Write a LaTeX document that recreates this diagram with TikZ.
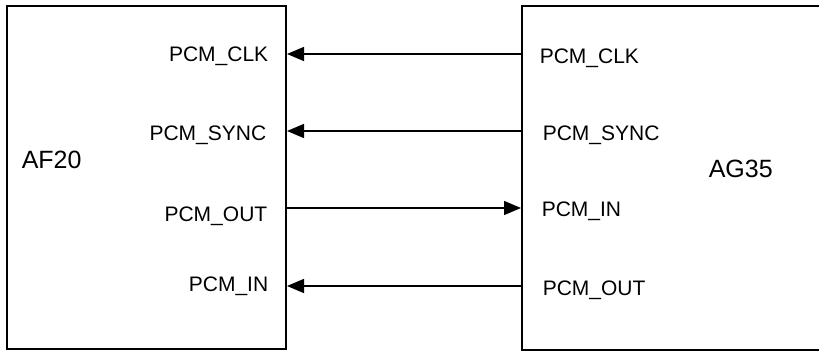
\documentclass[tikz,border=0pt]{standalone}
\usepackage{fontspec}
\setmainfont{Liberation Sans}
\usetikzlibrary{arrows.meta}

\begin{document}
\begin{tikzpicture}[x=1pt,y=-1pt,line width=1.5pt,>={Triangle[length=17pt,width=14pt]},
        chip/.style={rectangle,draw=black,line width=2pt},
        port/.style={font=\fontsize{21}{25}\selectfont,inner sep=0pt},
        chiplabel/.style={font=\fontsize{25}{30}\selectfont,inner sep=0pt}]
        \clip (0,0) rectangle (819,352);
        \node at (146.5,177.5)[chip,minimum width=279pt,minimum height=343pt] (af20) {};
        \node at (682,178)[chip,minimum width=320pt,minimum height=344pt] (ag35) {};
        \node at (21,169)[chiplabel,anchor=base west] (af20name) {AF20};
        \node at (708,178)[chiplabel,anchor=base west] (ag35name) {AG35};
        % rows of the pcm bus
        \coordinate (clk) at (0,54);
        \coordinate (sync) at (0,131);
        \coordinate (out) at (0,208);
        \coordinate (in) at (0,286);
        \node at (269,61.5)[port,anchor=base east] (fclk) {PCM\_CLK};
        \node at (267,140.5)[port,anchor=base east] (fsync) {PCM\_SYNC};
        \node at (268,222)[port,anchor=base east] (fout) {PCM\_OUT};
        \node at (269,291.5)[port,anchor=base east] (fin) {PCM\_IN};
        \node at (539,63.5)[port,anchor=base west] (gclk) {PCM\_CLK};
        \node at (542,140.5)[port,anchor=base west] (gsync) {PCM\_SYNC};
        \node at (541,216.5)[port,anchor=base west] (gin) {PCM\_IN};
        \node at (542,295.5)[port,anchor=base west] (gout) {PCM\_OUT};
        \draw [->] (ag35.west |- clk) to (af20.east |- clk);
        \draw [->] (ag35.west |- sync) to (af20.east |- sync);
        \draw [->] (af20.east |- out) to (ag35.west |- out);
        \draw [->] (ag35.west |- in) to (af20.east |- in);
\end{tikzpicture}
\end{document}
